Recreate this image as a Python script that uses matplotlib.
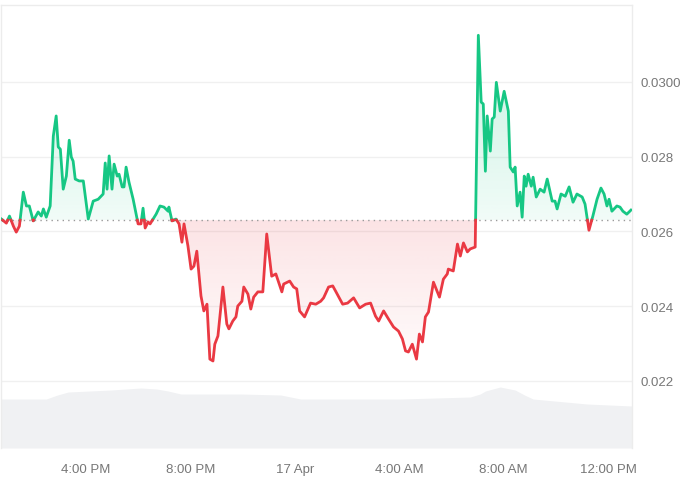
import numpy as np
import matplotlib
matplotlib.use("Agg")
import matplotlib.pyplot as plt
from matplotlib.colors import to_rgb
from matplotlib.path import Path

# price series, time in hours from 16 Apr 00:00
hours = [
    12.75, 12.94, 13.06, 13.21, 13.32, 13.44, 13.59, 13.71, 13.82, 13.97,
    14.16, 14.28, 14.36, 14.47, 14.62, 14.74, 14.85, 14.93, 15.01, 15.12,
    15.24, 15.35, 15.43, 15.50, 15.58, 15.73, 15.89, 16.08, 16.27, 16.46,
    16.65, 16.73, 16.80, 16.88, 16.99, 17.07, 17.19, 17.26, 17.38, 17.45,
    17.53, 17.64, 17.80, 17.99, 18.10, 18.18, 18.26, 18.37, 18.45, 18.68,
    18.83, 18.98, 19.14, 19.17, 19.29, 19.44, 19.56, 19.67, 19.75, 19.90,
    20.02, 20.13, 20.24, 20.40, 20.51, 20.63, 20.74, 20.86, 20.93, 21.05,
    21.24, 21.39, 21.47, 21.62, 21.74, 21.81, 21.97, 22.04, 22.20, 22.31,
    22.42, 22.58, 22.77, 22.92, 23.11, 23.27, 23.50, 23.57, 23.80, 23.95,
    24.07, 24.18, 24.37, 24.60, 24.80, 24.99, 25.10, 25.29, 25.45, 25.56,
    25.83, 26.02, 26.25, 26.48, 26.71, 26.90, 27.09, 27.21, 27.40, 27.59,
    27.78, 27.97, 28.12, 28.24, 28.35, 28.50, 28.66, 28.77, 28.89, 29.00,
    29.12, 29.31, 29.54, 29.69, 29.84, 29.88, 30.07, 30.23, 30.34, 30.46,
    30.61, 30.72, 30.91, 31.03, 31.14, 31.22, 31.30, 31.37, 31.49, 31.56,
    31.64, 31.72, 31.87, 32.02, 32.18, 32.25, 32.37, 32.44, 32.52, 32.63,
    32.71, 32.79, 32.86, 32.94, 33.06, 33.13, 33.25, 33.40, 33.55, 33.67,
    33.86, 33.97, 34.05, 34.20, 34.36, 34.51, 34.66, 34.81, 35.01, 35.12,
    35.27, 35.42, 35.58, 35.73, 35.85, 35.96, 36.04, 36.15, 36.34, 36.46,
    36.57, 36.72, 36.88,
]
prices = [
    0.02633, 0.02622, 0.02641, 0.02614, 0.02598, 0.02614, 0.02705, 0.02668, 0.02668, 0.02628,
    0.02652, 0.02641, 0.02660, 0.02638, 0.02668, 0.02855, 0.02909, 0.02826, 0.02820, 0.02713,
    0.02748, 0.02844, 0.02799, 0.02788, 0.02740, 0.02735, 0.02735, 0.02633, 0.02681, 0.02686,
    0.02700, 0.02783, 0.02713, 0.02802, 0.02713, 0.02780, 0.02748, 0.02753, 0.02719, 0.02719,
    0.02772, 0.02732, 0.02686, 0.02620, 0.02620, 0.02662, 0.02609, 0.02625, 0.02620, 0.02646,
    0.02668, 0.02665, 0.02654, 0.02665, 0.02628, 0.02633, 0.02620, 0.02571, 0.02620, 0.02561,
    0.02499, 0.02507, 0.02547, 0.02427, 0.02387, 0.02405, 0.02258, 0.02253, 0.02298, 0.02320,
    0.02451, 0.02352, 0.02339, 0.02360, 0.02371, 0.02400, 0.02413, 0.02451, 0.02432, 0.02392,
    0.02424, 0.02438, 0.02438, 0.02593, 0.02480, 0.02486, 0.02438, 0.02459, 0.02467, 0.02451,
    0.02446, 0.02387, 0.02371, 0.02408, 0.02405, 0.02413, 0.02422, 0.02451, 0.02454, 0.02440,
    0.02405, 0.02408, 0.02422, 0.02395, 0.02405, 0.02408, 0.02373, 0.02360, 0.02387, 0.02365,
    0.02344, 0.02333, 0.02312, 0.02280, 0.02277, 0.02298, 0.02258, 0.02325, 0.02304, 0.02371,
    0.02384, 0.02464, 0.02424, 0.02472, 0.02486, 0.02499, 0.02494, 0.02566, 0.02534, 0.02569,
    0.02545, 0.02553, 0.02558, 0.03125, 0.02946, 0.02941, 0.02761, 0.02909, 0.02815, 0.02901,
    0.02906, 0.02999, 0.02922, 0.02975, 0.02922, 0.02772, 0.02759, 0.02772, 0.02668, 0.02705,
    0.02638, 0.02748, 0.02721, 0.02753, 0.02721, 0.02745, 0.02692, 0.02713, 0.02705, 0.02740,
    0.02681, 0.02681, 0.02660, 0.02700, 0.02694, 0.02719, 0.02678, 0.02700, 0.02692, 0.02673,
    0.02603, 0.02641, 0.02686, 0.02716, 0.02700, 0.02668, 0.02686, 0.02654, 0.02668, 0.02665,
    0.02654, 0.02646, 0.02657,
]
base_price = 0.02630

# volume (arbitrary units)
vol_hours = [12.75, 14.47, 14.90, 15.31, 16.96, 18.10, 18.70, 19.14, 19.63, 21.93, 23.46, 24.22,
             28.05, 30.72, 31.10, 31.30, 31.87, 32.44, 32.80, 33.13, 35.20, 36.92]
volume = [4.9, 4.9, 5.3, 5.6, 5.8, 6.0, 5.9, 5.7, 5.4, 5.4, 5.3, 4.9,
          4.9, 5.1, 5.4, 5.7, 6.1, 5.8, 5.3, 4.9, 4.4, 4.2]

tick_hours = [16, 20, 24, 28, 32, 36]
tick_labels = ["4:00 PM", "8:00 PM", "17 Apr", "4:00 AM", "8:00 AM", "12:00 PM"]
ytick_vals = [0.022, 0.024, 0.026, 0.028, 0.030]
ytick_labels = ["0.022", "0.024", "0.026", "0.028", "0.0300"]

green = "#16c784"
red = "#ea3943"
xlim = (12.75, 36.92)
ylim = (0.02020, 0.03206)

plt.rcParams["font.family"] = ["Liberation Sans", "DejaVu Sans"]

fig = plt.figure(figsize=(6.92, 4.81), dpi=100)
rect = [0.002, 0.0665, 0.9113, 0.921]
axv = fig.add_axes(rect)
ax = fig.add_axes(rect)
axv.set_zorder(1)
ax.set_zorder(2)
ax.patch.set_visible(False)

# volume area
axv.fill_between(vol_hours, 0, volume, color="#f0f1f3", lw=0)
axv.set_xlim(*xlim)
axv.set_ylim(0, 44.3)
axv.axis("off")

# split the line where it crosses the baseline
x = np.array(hours)
y = np.array(prices)
xs, ys = [x[0]], [y[0]]
for i in range(1, len(x)):
    y0, y1 = y[i - 1], y[i]
    if (y0 - base_price) * (y1 - base_price) < 0:
        t = (base_price - y0) / (y1 - y0)
        xs.append(x[i - 1] + t * (x[i] - x[i - 1]))
        ys.append(base_price)
    xs.append(x[i])
    ys.append(y1)
xs = np.array(xs)
ys = np.array(ys)


def gradient_fill(lower, upper, color, a_top, a_bot, ylo, yhi):
    # polygon in data coords: upper edge forward, lower edge back
    lo = np.broadcast_to(lower, xs.shape)
    hi = np.broadcast_to(upper, xs.shape)
    verts = np.concatenate([np.column_stack([xs, hi]),
                            np.column_stack([xs[::-1], lo[::-1]])])
    clip = Path(verts, closed=False)
    grad = np.zeros((256, 1, 4))
    grad[..., :3] = to_rgb(color)
    grad[..., 3] = np.linspace(a_top, a_bot, 256).reshape(-1, 1)
    im = ax.imshow(grad, extent=[xlim[0], xlim[1], ylo, yhi], aspect="auto",
                   origin="upper", zorder=1, interpolation="bilinear")
    im.set_clip_path(clip, transform=ax.transData)


gradient_fill(base_price, np.maximum(ys, base_price), green, 0.24, 0.06,
              base_price, ys.max())
gradient_fill(np.minimum(ys, base_price), base_price, red, 0.14, 0.02,
              ys.min(), base_price)

up = np.where(ys >= base_price, ys, np.nan)
dn = np.where(ys <= base_price, ys, np.nan)
ax.plot(xs, up, color=green, lw=2.0, zorder=4, solid_joinstyle="round")
ax.plot(xs, dn, color=red, lw=2.0, zorder=4, solid_joinstyle="round")

ax.axhline(base_price, color="#9a9a9a", lw=1, ls=(0, (1, 3)), zorder=3)

for v in ytick_vals:
    ax.axhline(v, color="#f0f0f0", lw=1, zorder=0)

ax.set_xlim(*xlim)
ax.set_ylim(*ylim)
ax.set_xticks(tick_hours)
ax.set_xticklabels(tick_labels)
ax.set_yticks(ytick_vals)
ax.set_yticklabels(ytick_labels)
ax.yaxis.tick_right()
ax.tick_params(axis="x", length=0, pad=11, labelsize=9.5, labelcolor="#777777")
ax.tick_params(axis="y", length=0, pad=6, labelsize=9.5, labelcolor="#777777")
for s in ax.spines.values():
    s.set_color("#ececec")
    s.set_linewidth(1)
ax.spines["bottom"].set_visible(False)

fig.savefig("out.png", dpi=100)
